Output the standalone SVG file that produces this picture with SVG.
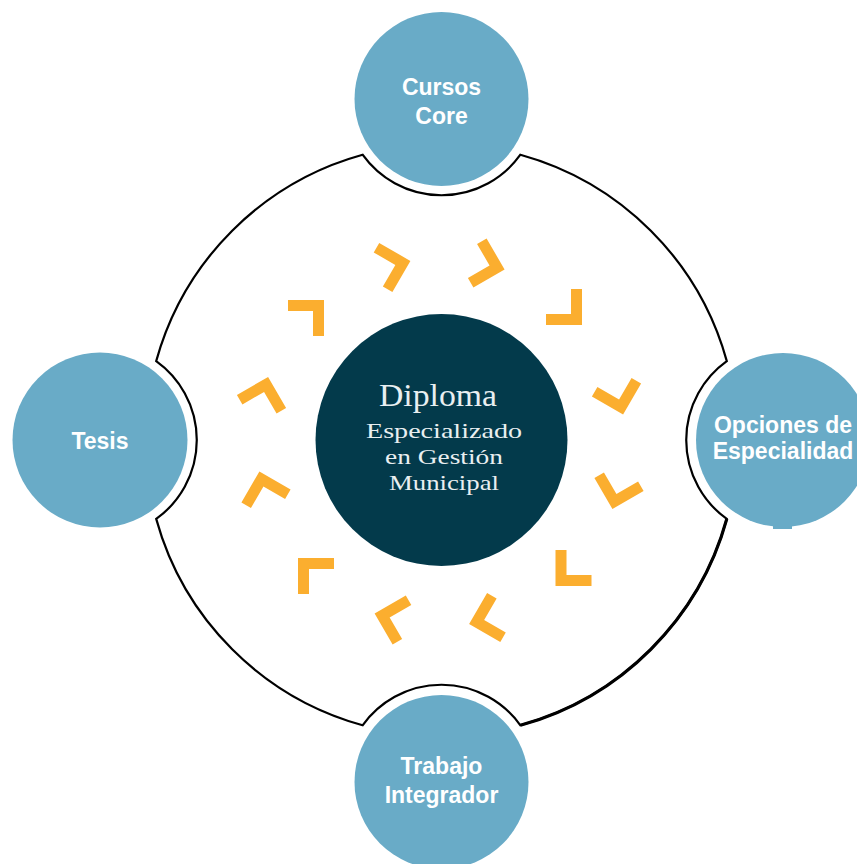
<svg xmlns="http://www.w3.org/2000/svg" xmlns:xlink="http://www.w3.org/1999/xlink" width="857" height="864" viewBox="0 0 857 864">
<style>
.sat{fill:#69abc7}
.satt{font-family:"Liberation Sans",Arial,sans-serif;font-weight:bold;font-size:23px;fill:#ffffff;text-anchor:middle}
.ct{font-family:"Liberation Serif","Times New Roman",serif;fill:#e9eff1;text-anchor:middle}
.ring{fill:none;stroke:#000;stroke-width:2.2;stroke-linejoin:miter}
.chev{fill:#fbae2f}
</style>
<defs>
<polygon id="chev" points="-18,-18 18,-18 18,18 7,18 7,-7 -18,-7"/>
</defs>
<rect width="857" height="864" fill="#ffffff"/>
<g id="connectors">
<path class="ring" d="M 362.6 154.7 A 296 296 0 0 0 156.2 361.1 A 97 97 0 0 1 156.2 518.9 A 296 296 0 0 0 362.6 725.3 A 97 97 0 0 1 520.4 725.3 A 296 296 0 0 0 726.8 518.9 A 97 97 0 0 1 726.8 361.1 A 296 296 0 0 0 520.4 154.7 A 97 97 0 0 1 362.6 154.7 Z"/>
<path class="ring" style="stroke-width:3.2" d="M 520.4 725.3 A 296 296 0 0 0 726.8 518.9"/>
</g>
<g id="chevrons" class="chev">
<use xlink:href="#chev" transform="translate(385.8,267.5) rotate(30)"/>
<use xlink:href="#chev" transform="translate(480,263) rotate(60)"/>
<use xlink:href="#chev" transform="translate(564,307) rotate(90)"/>
<use xlink:href="#chev" transform="translate(616.5,390) rotate(120)"/>
<use xlink:href="#chev" transform="translate(619,484.5) rotate(150)"/>
<use xlink:href="#chev" transform="translate(573.5,568) rotate(180)"/>
<use xlink:href="#chev" transform="translate(493.7,617.5) rotate(210)"/>
<use xlink:href="#chev" transform="translate(399.2,620) rotate(240)"/>
<use xlink:href="#chev" transform="translate(316,576) rotate(270)"/>
<use xlink:href="#chev" transform="translate(266,496) rotate(300)"/>
<use xlink:href="#chev" transform="translate(261.5,401.5) rotate(330)"/>
<use xlink:href="#chev" transform="translate(306,318)"/>
</g>
<g id="node-center">
<circle cx="441.5" cy="440" r="126" fill="#033a4b"/>
<text class="ct" x="438" y="406" font-size="31" textLength="118" lengthAdjust="spacingAndGlyphs">Diploma</text>
<text class="ct" x="444" y="438" font-size="22" textLength="156" lengthAdjust="spacingAndGlyphs">Especializado</text>
<text class="ct" x="444" y="464" font-size="22" textLength="118" lengthAdjust="spacingAndGlyphs">en Gestión</text>
<text class="ct" x="444" y="490" font-size="22" textLength="110" lengthAdjust="spacingAndGlyphs">Municipal</text>
</g>
<g id="node-cursos">
<circle class="sat" cx="441.5" cy="99" r="87"/>
<text class="satt" x="441.5" y="95">Cursos</text>
<text class="satt" x="441.5" y="124">Core</text>
</g>
<g id="node-tesis">
<circle class="sat" cx="100" cy="440" r="87.5"/>
<text class="satt" x="100" y="449">Tesis</text>
</g>
<g id="node-opciones">
<circle class="sat" cx="783" cy="440" r="87"/>
<rect class="sat" x="773" y="524" width="19" height="5"/>
<text class="satt" x="783" y="433">Opciones de</text>
<text class="satt" x="783" y="459">Especialidad</text>
</g>
<g id="node-trabajo">
<circle class="sat" cx="441.5" cy="782" r="87"/>
<text class="satt" x="441.5" y="774">Trabajo</text>
<text class="satt" x="441.5" y="803">Integrador</text>
</g>
</svg>
